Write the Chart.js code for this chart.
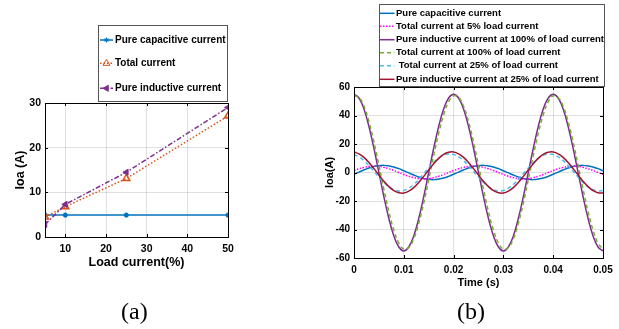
<!DOCTYPE html>
<html>
<head>
<meta charset="utf-8">
<script src="https://cdn.jsdelivr.net/npm/chart.js@4/dist/chart.umd.min.js"></script>
<style>
  body { margin: 0; background: #fff; width: 619px; height: 329px; position: relative; overflow: hidden; }
  canvas { position: absolute; top: 0; }
  #chartA { left: 0; }
  #chartB { left: 310px; }
  .cap { position: absolute; font-family: "Liberation Serif", "Times New Roman", serif; font-size: 24px; color: #000; line-height: 1; }
</style>
</head>
<body>
<canvas id="chartA" width="310" height="329"></canvas>
<canvas id="chartB" width="309" height="329"></canvas>
<div class="cap" style="left:121px;top:299px">(a)</div>
<div class="cap" style="left:457px;top:299px">(b)</div>
<script>
// (a) Ioa against load current
const loadPct = [5, 10, 25, 50];
const capA = [4.9, 4.9, 4.9, 4.9];
const totalA = [4.5, 6.8, 13.1, 27.1];
const indA = [2.8, 7.3, 14.5, 29.0];
const namesA = ['Pure capacitive current', 'Total current', 'Pure inductive current'];
const xTicksA = [10, 20, 30, 40, 50];
const yTicksA = [0, 10, 20, 30];

// (b) waveforms, sampled every 1 ms
const timeS = [0, 0.001, 0.002, 0.003, 0.004, 0.005, 0.006, 0.007, 0.008, 0.009,
  0.01, 0.011, 0.012, 0.013, 0.014, 0.015, 0.016, 0.017, 0.018, 0.019,
  0.02, 0.021, 0.022, 0.023, 0.024, 0.025, 0.026, 0.027, 0.028, 0.029,
  0.03, 0.031, 0.032, 0.033, 0.034, 0.035, 0.036, 0.037, 0.038, 0.039,
  0.04, 0.041, 0.042, 0.043, 0.044, 0.045, 0.046, 0.047, 0.048, 0.049, 0.05];
const capB = [-1.2, 0.3, 1.8, 3.2, 4.2, 4.8, 5.0, 4.6, 3.9, 2.7, 1.2, -0.3, -1.8, -3.2, -4.2, -4.8, -5.0, -4.6, -3.9, -2.7,
  -1.2, 0.3, 1.8, 3.2, 4.2, 4.8, 5.0, 4.6, 3.9, 2.7, 1.2, -0.3, -1.8, -3.2, -4.2, -4.8, -5.0, -4.6, -3.9, -2.7,
  -1.2, 0.3, 1.8, 3.2, 4.2, 4.8, 5.0, 4.6, 3.9, 2.7, 1.2];
const total5B = [1.4, 2.6, 3.6, 4.3, 4.5, 4.3, 3.6, 2.6, 1.4, 0, -1.4, -2.6, -3.6, -4.3, -4.5, -4.3, -3.6, -2.6, -1.4, 0,
  1.4, 2.6, 3.6, 4.3, 4.5, 4.3, 3.6, 2.6, 1.4, 0, -1.4, -2.6, -3.6, -4.3, -4.5, -4.3, -3.6, -2.6, -1.4, 0,
  1.4, 2.6, 3.6, 4.3, 4.5, 4.3, 3.6, 2.6, 1.4, 0, -1.4];
const ind100B = [55, 52.3, 44.5, 32.3, 17.0, 0, -17.0, -32.3, -44.5, -52.3, -55, -52.3, -44.5, -32.3, -17.0, 0, 17.0, 32.3, 44.5, 52.3,
  55, 52.3, 44.5, 32.3, 17.0, 0, -17.0, -32.3, -44.5, -52.3, -55, -52.3, -44.5, -32.3, -17.0, 0, 17.0, 32.3, 44.5, 52.3,
  55, 52.3, 44.5, 32.3, 17.0, 0, -17.0, -32.3, -44.5, -52.3, -55];
const total100B = [53.8, 52.7, 46.5, 35.7, 21.4, 5.1, -11.8, -27.5, -40.5, -49.6, -53.8, -52.7, -46.5, -35.7, -21.4, -5.1, 11.8, 27.5, 40.5, 49.6,
  53.8, 52.7, 46.5, 35.7, 21.4, 5.1, -11.8, -27.5, -40.5, -49.6, -53.8, -52.7, -46.5, -35.7, -21.4, -5.1, 11.8, 27.5, 40.5, 49.6,
  53.8, 52.7, 46.5, 35.7, 21.4, 5.1, -11.8, -27.5, -40.5, -49.6, -53.8];
const total25B = [12.6, 11.0, 8.3, 4.8, 0.8, -3.2, -7.0, -10.0, -12.1, -13.0, -12.6, -11.0, -8.3, -4.8, -0.8, 3.2, 7.0, 10.0, 12.1, 13.0,
  12.6, 11.0, 8.3, 4.8, 0.8, -3.2, -7.0, -10.0, -12.1, -13.0, -12.6, -11.0, -8.3, -4.8, -0.8, 3.2, 7.0, 10.0, 12.1, 13.0,
  12.6, 11.0, 8.3, 4.8, 0.8, -3.2, -7.0, -10.0, -12.1, -13.0, -12.6];
const ind25B = [14.4, 13.1, 10.6, 7.0, 2.7, -1.8, -6.2, -9.9, -12.7, -14.2, -14.4, -13.1, -10.6, -7.0, -2.7, 1.8, 6.2, 9.9, 12.7, 14.2,
  14.4, 13.1, 10.6, 7.0, 2.7, -1.8, -6.2, -9.9, -12.7, -14.2, -14.4, -13.1, -10.6, -7.0, -2.7, 1.8, 6.2, 9.9, 12.7, 14.2,
  14.4, 13.1, 10.6, 7.0, 2.7, -1.8, -6.2, -9.9, -12.7, -14.2, -14.4];
const namesB = ['Pure capacitive current', 'Total current at 5% load current',
  'Pure inductive current at 100% of load current', 'Total current at 100% of load current',
  ' Total current at 25% of load current', 'Pure inductive current at 25% of load current'];
const xTicksB = [0, 0.01, 0.02, 0.03, 0.04, 0.05];
const yTicksB = [-60, -40, -20, 0, 20, 40, 60];

const FONT = '"Liberation Sans", Arial, sans-serif';
const GRID = 'rgba(0,0,0,0.12)';

// box around the axes, MATLAB style inward ticks, and a boxed legend
const matlabFrame = {
    id: 'matlabFrame',
    afterDatasetsDraw(chart) {
        const { ctx, chartArea: a, scales } = chart;
        ctx.save();
        ctx.strokeStyle = '#000';
        ctx.lineWidth = 1;
        ctx.strokeRect(Math.round(a.left) + 0.5, Math.round(a.top) + 0.5,
            Math.round(a.right - a.left), Math.round(a.bottom - a.top));
        ctx.beginPath();
        scales.x.ticks.forEach(t => {
            const px = Math.round(scales.x.getPixelForValue(t.value)) + 0.5;
            ctx.moveTo(px, a.bottom); ctx.lineTo(px, a.bottom - 3);
            ctx.moveTo(px, a.top); ctx.lineTo(px, a.top + 3);
        });
        scales.y.ticks.forEach(t => {
            const py = Math.round(scales.y.getPixelForValue(t.value)) + 0.5;
            ctx.moveTo(a.left, py); ctx.lineTo(a.left + 3, py);
            ctx.moveTo(a.right, py); ctx.lineTo(a.right - 3, py);
        });
        ctx.stroke();
        ctx.restore();
    },
    afterDraw(chart) {
        const lg = chart.options.plugins.matlabFrame;
        const ctx = chart.ctx;
        ctx.save();
        ctx.fillStyle = '#fff';
        ctx.fillRect(lg.x, lg.y, lg.w, lg.h);
        ctx.strokeStyle = '#555';
        ctx.lineWidth = 1;
        ctx.strokeRect(lg.x + 0.5, lg.y + 0.5, lg.w, lg.h);
        ctx.font = 'bold ' + lg.fontSize + 'px ' + FONT;
        ctx.textBaseline = 'middle';
        chart.data.datasets.forEach((ds, i) => {
            const y = lg.rows[i];
            ctx.save();
            ctx.strokeStyle = ds.borderColor;
            ctx.lineWidth = ds.borderWidth;
            ctx.setLineDash(ds.borderDash || []);
            ctx.beginPath();
            ctx.moveTo(lg.x0, y); ctx.lineTo(lg.x1, y);
            ctx.stroke();
            ctx.restore();
            if (ds.pointRadius) {
                ctx.save();
                ctx.strokeStyle = ds.pointBorderColor;
                ctx.fillStyle = ds.pointBackgroundColor;
                Chart.helpers.drawPoint(ctx, {
                    pointStyle: ds.pointStyle,
                    rotation: ds.pointRotation || 0,
                    radius: ds.pointRadius,
                    borderWidth: ds.pointBorderWidth
                }, (lg.x0 + lg.x1) / 2, y);
                ctx.restore();
            }
            ctx.fillStyle = '#000';
            ctx.fillText(ds.label, lg.textX, y);
        });
        ctx.restore();
    }
};

function axis(min, max, tickList, tickSize, title, titleSize, titlePad, fixed, horizontal) {
    return {
        type: 'linear',
        min: min,
        max: max,
        afterBuildTicks: s => { s.ticks = tickList.map(v => ({ value: v })); },
        afterFit: s => { if (horizontal) s.height = fixed; else s.width = fixed; },
        grid: { color: GRID, drawTicks: false },
        border: { color: '#000' },
        ticks: {
            color: '#000',
            padding: horizontal ? 6 : 4,
            font: { family: FONT, size: tickSize, weight: 'bold' },
            callback: v => String(v)
        },
        title: {
            display: true,
            text: title,
            color: '#000',
            font: { family: FONT, size: titleSize, weight: 'bold' },
            padding: titlePad
        }
    };
}

Chart.defaults.animation = false;

new Chart(document.getElementById('chartA'), {
    type: 'line',
    data: {
        datasets: [
            {
                label: namesA[0],
                data: loadPct.map((x, i) => ({ x: x, y: capA[i] })),
                borderColor: '#0072BD', borderWidth: 1.5,
                pointStyle: 'star', pointRadius: 2.5, pointBorderWidth: 1.5,
                pointBorderColor: '#0072BD', pointBackgroundColor: '#0072BD',
                order: 0
            },
            {
                label: namesA[1],
                data: loadPct.map((x, i) => ({ x: x, y: totalA[i] })),
                borderColor: '#D95319', borderWidth: 1.5, borderDash: [1.5, 2],
                pointStyle: 'triangle', pointRadius: 4, pointBorderWidth: 1.5,
                pointBorderColor: '#D95319', pointBackgroundColor: 'rgba(255,255,255,0)',
                order: -1
            },
            {
                label: namesA[2],
                data: loadPct.map((x, i) => ({ x: x, y: indA[i] })),
                borderColor: '#7E2F8E', borderWidth: 1.5, borderDash: [5, 2, 1.5, 2],
                pointStyle: 'triangle', pointRotation: -90, pointRadius: 3.5, pointBorderWidth: 1,
                pointBorderColor: '#7E2F8E', pointBackgroundColor: '#7E2F8E',
                order: -2
            }
        ]
    },
    options: {
        responsive: false,
        devicePixelRatio: 1,
        layout: { padding: { left: 0, top: 103, right: 82, bottom: 52 } },
        scales: {
            x: axis(5, 50, xTicksA, 10.5, 'Load current(%)', 12.5, { top: 0, bottom: 6.5 }, 40, true),
            y: axis(0, 30, yTicksA, 10.5, 'Ioa (A)', 12.5, { top: 13.5, bottom: 0 }, 45, false)
        },
        plugins: {
            legend: { display: false },
            tooltip: { enabled: false },
            matlabFrame: { x: 98, y: 25, w: 129, h: 76, rows: [40, 63.3, 88.3], x0: 100, x1: 113, textX: 115, fontSize: 10 }
        }
    },
    plugins: [matlabFrame]
});

const styleB = [
    { color: '#0072BD', dash: [] },
    { color: '#FF00FF', dash: [1.5, 1.5] },
    { color: '#7E2F8E', dash: [] },
    { color: '#77AC30', dash: [4, 3] },
    { color: '#4DBEEE', dash: [4, 3] },
    { color: '#A2142F', dash: [] }
];
const seriesB = [capB, total5B, ind100B, total100B, total25B, ind25B];

new Chart(document.getElementById('chartB'), {
    type: 'line',
    data: {
        datasets: seriesB.map((vals, i) => ({
            label: namesB[i],
            data: timeS.map((t, k) => ({ x: t, y: vals[k] })),
            borderColor: styleB[i].color,
            borderDash: styleB[i].dash,
            borderWidth: 1.5,
            pointRadius: 0,
            tension: 0.4,
            order: -i
        }))
    },
    options: {
        responsive: false,
        devicePixelRatio: 1,
        layout: { padding: { left: 0, top: 87, right: 16, bottom: 31 } },
        scales: {
            x: axis(0, 0.05, xTicksB, 10, 'Time (s)', 11, { top: 0, bottom: 8.7 }, 40, true),
            y: axis(-60, 60, yTicksB, 10, 'Ioa(A)', 11, { top: 13.4, bottom: 0 }, 44, false)
        },
        plugins: {
            legend: { display: false },
            tooltip: { enabled: false },
            matlabFrame: { x: 69, y: 4, w: 225, h: 82, rows: [13.3, 26.3, 39.7, 52.7, 65.7, 79.3], x0: 70, x1: 84.5, textX: 86, fontSize: 9.5 }
        }
    },
    plugins: [matlabFrame]
});
</script>
</body>
</html>
